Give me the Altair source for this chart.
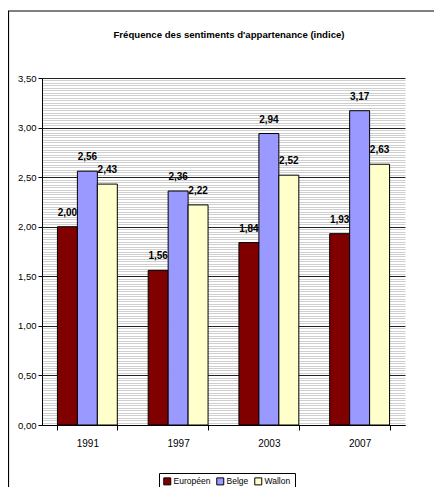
import altair as alt
import pandas as pd

years = ["1991", "1997", "2003", "2007"]
series = ["Européen", "Belge", "Wallon"]
europeen = [2.00, 1.56, 1.84, 1.93]
belge = [2.56, 2.36, 2.94, 3.17]
wallon = [2.43, 2.22, 2.52, 2.63]
colors = ["#800000", "#9999FF", "#FFFFCC"]
y_ticks = [0.0, 0.5, 1.0, 1.5, 2.0, 2.5, 3.0, 3.5]
title_text = "Fréquence des sentiments d'appartenance (indice)"

rows = []
for i, y in enumerate(years):
    for s, vals in zip(series, [europeen, belge, wallon]):
        rows.append({"year": y, "serie": s, "value": vals[i]})
df = pd.DataFrame(rows)

FONT = "Liberation Sans, Arial"

# dense stripe grid values (background pattern) + major values
stripe_vals = sorted(set([round(i * 0.025, 3) for i in range(141)] + y_ticks))
is_major = "abs(datum.value*2 - round(datum.value*2)) < 0.001"

X = alt.X("year:N", sort=years, title=None,
          scale=alt.Scale(paddingInner=0.34, paddingOuter=0.17),
          axis=alt.Axis(labelAngle=0, labelFont=FONT, labelFontSize=10,
                        labelColor="black", tickColor="black", tickSize=5,
                        tickBand="extent", labelPadding=8,
                        domainColor="black", grid=False))
XO = alt.XOffset("serie:N", sort=series,
                 scale=alt.Scale(paddingInner=0, paddingOuter=0))
Y = alt.Y("value:Q", title=None,
          scale=alt.Scale(domain=[0, 3.5], nice=False, zero=True),
          axis=alt.Axis(values=stripe_vals, labelOverlap=False,
                        labelExpr=f"{is_major} ? replace(format(datum.value, '.2f'), '.', ',') : ''",
                        labelFont=FONT, labelFontSize=9.5, labelColor="black",
                        tickSize=4,
                        tickColor={"condition": {"test": is_major, "value": "black"},
                                   "value": "transparent"},
                        gridColor={"condition": {"test": is_major, "value": "#222222"},
                                   "value": "#cfcfcf"},
                        gridWidth=1, gridOpacity=1,
                        domainColor="black", labelPadding=2))

base = alt.Chart(df)

bars = base.mark_bar(stroke="black", strokeWidth=1).encode(
    x=X, xOffset=XO, y=Y,
    color=alt.Color("serie:N", sort=series,
                    scale=alt.Scale(domain=series, range=colors),
                    legend=alt.Legend(title=None, orient="none", direction="horizontal",
                                      legendX=117, legendY=395,
                                      strokeColor="black", fillColor="white",
                                      padding=4, symbolType="square", symbolSize=49,
                                      symbolStrokeColor="black", symbolStrokeWidth=1,
                                      labelFont=FONT, labelFontSize=8.5,
                                      labelColor="black", columnPadding=3,
                                      symbolOffset=0, labelOffset=2)),
)

labels = base.transform_calculate(
    lab="replace(format(datum.value, '.2f'), '.', ',')"
).mark_text(dy=-14, fontWeight="bold", font=FONT, fontSize=10, color="black").encode(
    x=X, xOffset=XO, y=Y,
    text="lab:N",
)

title = alt.Chart(alt.Data(values=[{"t": title_text}])).mark_text(
    font=FONT, fontSize=9.6, fontWeight="bold", color="black", align="center", baseline="middle"
).encode(x=alt.value(187), y=alt.value(-43), text="t:N")

border = alt.Chart(alt.Data(values=[{"a": 1}])).mark_rect(
    fill=None, stroke="black", strokeWidth=1.2
).encode(x=alt.value(-33.5), x2=alt.value(600), y=alt.value(-67), y2=alt.value(700))

chart = alt.layer(bars, labels, title, border).properties(
    width=363, height=347,
    padding={"left": 34, "top": 70, "right": 29, "bottom": 62},
    autosize=alt.AutoSizeParams(type="none"),
).configure_view(stroke=None, fill="white")

chart.save("out.html", embed_options={"renderer": "svg", "actions": False})
